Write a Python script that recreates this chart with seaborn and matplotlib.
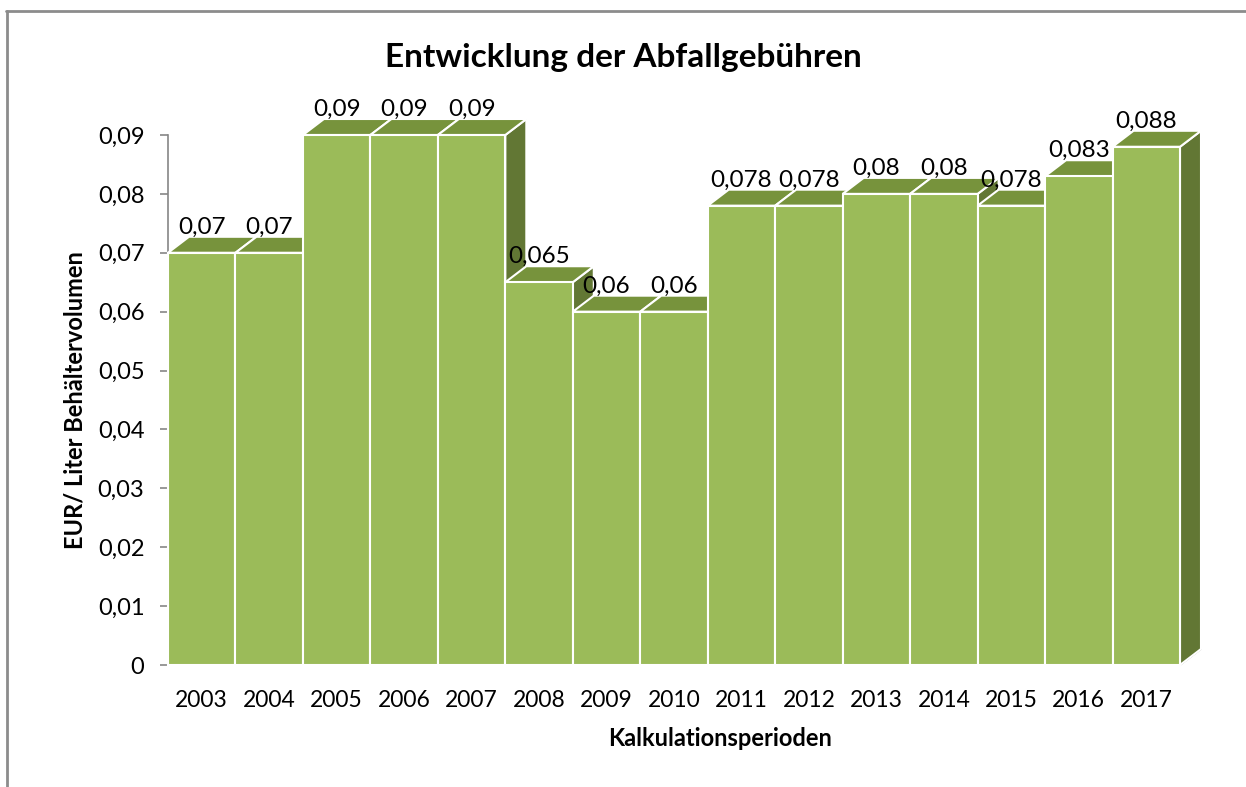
import numpy as np
import pandas as pd
import matplotlib
matplotlib.use("Agg")
import matplotlib.pyplot as plt
from matplotlib.patches import Polygon
from matplotlib.ticker import FuncFormatter
import seaborn as sns

# ---- Daten ----
jahre = ["2003", "2004", "2005", "2006", "2007", "2008", "2009", "2010",
         "2011", "2012", "2013", "2014", "2015", "2016", "2017"]
gebuehr = [0.07, 0.07, 0.09, 0.09, 0.09, 0.065, 0.06, 0.06,
           0.078, 0.078, 0.08, 0.08, 0.078, 0.083, 0.088]
y_ticks = [0, 0.01, 0.02, 0.03, 0.04, 0.05, 0.06, 0.07, 0.08, 0.09]

titel = "Entwicklung der Abfallgebühren"
x_titel = "Kalkulationsperioden"
y_titel = "EUR/ Liter Behältervolumen"

df = pd.DataFrame({"jahr": jahre, "wert": gebuehr})

sns.set_theme(style="white")
plt.rcParams["font.family"] = ["Lato", "DejaVu Sans"]
plt.rcParams["text.color"] = "black"
plt.rcParams["axes.labelcolor"] = "black"
plt.rcParams["xtick.labelcolor"] = "black"
plt.rcParams["ytick.labelcolor"] = "black"

front = "#9BBB59"
top = "#77933C"
side = "#627734"
grau = "#868686"

fig = plt.figure(figsize=(12.46, 7.87), dpi=100)
ax = fig.add_axes([168 / 1246, 1 - 665 / 787, 1012 / 1246, 530 / 787])

sns.barplot(data=df, x="jahr", y="wert", color=front, saturation=1,
            width=1.0, edgecolor="white", linewidth=1.5, ax=ax, zorder=3)

ax.set_xlim(-0.5, len(jahre) - 0.5)
ax.set_ylim(0, 0.09)

# 3D-Tiefe (in Datenkoordinaten)
dx = 21 / 1012 * len(jahre)
dy = 16 / 530 * 0.09

bars = list(ax.patches)
for i, b in enumerate(bars):
    x0 = b.get_x()
    w = b.get_width()
    h = b.get_height()
    z = 3 + i * 0.01
    seite = Polygon([[x0 + w, 0], [x0 + w + dx, dy], [x0 + w + dx, h + dy], [x0 + w, h]],
                    closed=True, facecolor=side, edgecolor="white", lw=1.5,
                    clip_on=False, zorder=z)
    deckel = Polygon([[x0, h], [x0 + dx, h + dy], [x0 + w + dx, h + dy], [x0 + w, h]],
                     closed=True, facecolor=top, edgecolor="white", lw=1.5,
                     clip_on=False, zorder=z + 0.001)
    ax.add_patch(seite)
    ax.add_patch(deckel)
    b.set_zorder(z + 0.002)
    b.set_clip_on(False)
    label = f"{gebuehr[i]:g}".replace(".", ",")
    ax.text(x0 + w / 2, h + dy * 1.2, label, ha="center", va="baseline",
            fontsize=17.5, color="black", zorder=10, clip_on=False)

# Boden-Kante rechts
n = len(jahre)
ax.plot([n - 0.5, n - 0.5 + dx], [0, dy], color=grau, lw=1.2, clip_on=False, zorder=2)

sns.despine(ax=ax, top=True, right=True)
ax.spines["left"].set_color(grau)
ax.spines["bottom"].set_color(grau)
ax.spines["left"].set_linewidth(1.2)
ax.spines["bottom"].set_linewidth(1.2)

ax.set_yticks(y_ticks)
ax.yaxis.set_major_formatter(FuncFormatter(lambda v, p: f"{v:g}".replace(".", ",")))
ax.tick_params(axis="y", left=True, length=6, width=1.2, color=grau, labelcolor="black",
               pad=11, labelsize=17)
ax.tick_params(axis="x", bottom=False, pad=12, labelsize=16.5, labelcolor="black")

ax.set_xlabel(x_titel, fontsize=17, fontweight="bold", va="center", color="black")
ax.xaxis.set_label_coords((720 - 168) / 1012, (665 - 738) / 530)
ax.set_ylabel(y_titel, fontsize=17, fontweight="bold", va="center", color="black")
ax.yaxis.set_label_coords((75 - 168) / 1012, 0.5)

fig.text(0.5, 1 - 57 / 787, titel, ha="center", va="center",
         fontsize=24, fontweight="bold", color="black")

# Rahmen
fig.add_artist(plt.Line2D([6 / 1246, 1], [1 - 11 / 787, 1 - 11 / 787],
                          transform=fig.transFigure, color="#8C8C8C", lw=2))
fig.add_artist(plt.Line2D([6.5 / 1246, 6.5 / 1246], [0, 1 - 11 / 787],
                          transform=fig.transFigure, color="#8C8C8C", lw=2))

fig.savefig("out.png", dpi=100)
